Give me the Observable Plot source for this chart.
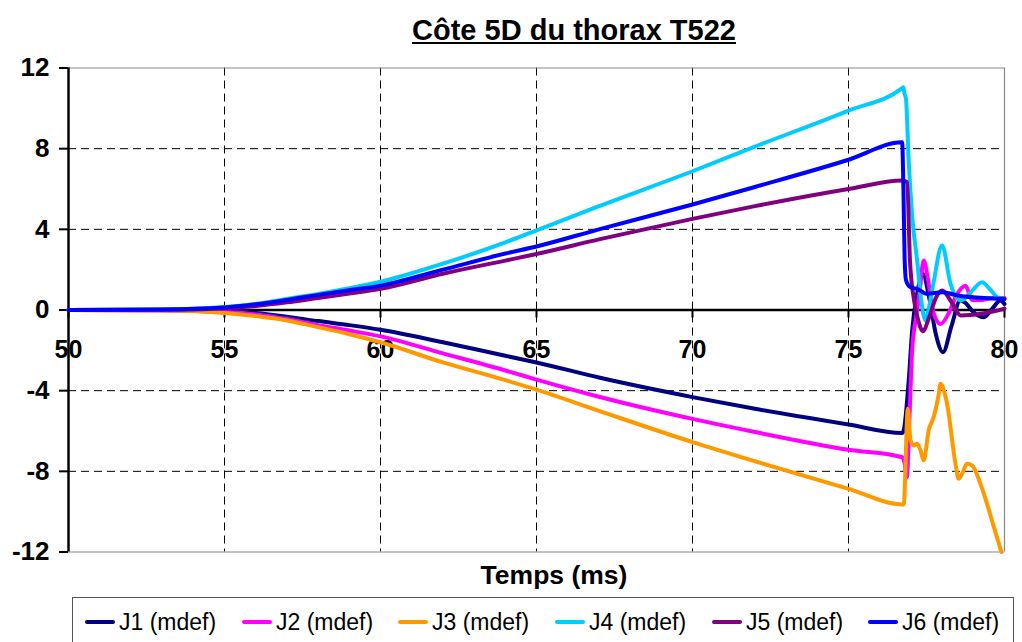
<!DOCTYPE html>
<html>
<head>
<meta charset="utf-8">
<script src="https://cdn.jsdelivr.net/npm/d3@7"></script>
<script src="https://cdn.jsdelivr.net/npm/@observablehq/plot@0.6"></script>
<style>
  html, body { margin: 0; padding: 0; background: #fff; }
  #wrap { position: relative; width: 1022px; height: 642px; overflow: hidden; font-family: "Liberation Sans", Arial, sans-serif; }
  #title { position: absolute; top: 13px; left: 574px; transform: translateX(-50%); font-size: 29px; font-weight: bold; text-decoration: underline; white-space: nowrap; line-height: 34px; }
  #xlabel { position: absolute; top: 559px; left: 554px; transform: translateX(-50%); font-size: 26.5px; font-weight: bold; white-space: nowrap; line-height: 32px; }
  #legend { position: absolute; left: 72px; top: 597px; width: 942px; height: 60px; border: 1px solid #555; box-sizing: border-box; }
  .item { position: absolute; top: 9px; font-size: 23px; line-height: 30px; white-space: nowrap; display: flex; align-items: center; }
  .sw { display: inline-block; width: 30px; height: 4px; margin-right: 4px; border-radius: 2px; }
</style>
</head>
<body>
<div id="wrap">
  <div id="chart"></div>
  <div id="title">Côte 5D du thorax T522</div>
  <div id="xlabel">Temps (ms)</div>
  <div id="legend"></div>
</div>
<script>
// ---- data ----
const seriesNames = ["J1 (mdef)", "J2 (mdef)", "J3 (mdef)", "J4 (mdef)", "J5 (mdef)", "J6 (mdef)"];
const seriesColors = ["#000080", "#FF00FF", "#FF9900", "#00CCFF", "#800080", "#0000FF"];
const xTicks = [50, 55, 60, 65, 70, 75, 80];
const yTicks = [-12, -8, -4, 0, 4, 8, 12];

const baseTime = [50, 53, 55, 56, 57, 58, 59, 60, 62, 64, 65, 67, 70, 72, 75, 76.72];

const j1Base = [0, 0, -0.05, -0.15, -0.33, -0.55, -0.75, -0.98, -1.6, -2.27, -2.6, -3.35, -4.32, -4.9, -5.68, -6.1];
const j1TailTime = [76.77, 76.93, 77.04, 77.2, 77.38, 77.6, 77.8, 78.03, 78.3, 78.58, 78.75, 79.0, 79.34, 79.6, 79.87, 80];
const j1TailVal = [-5.97, -3.5, -1.02, 0.8, 1.8, 0.5, -1.2, -2.09, -0.8, 0.47, 0.35, -0.1, -0.36, 0.05, 0.47, 0.3];

const j2Base = [0, -0.02, -0.1, -0.22, -0.45, -0.75, -1.02, -1.31, -2.15, -3.0, -3.45, -4.3, -5.4, -6.05, -6.93, -7.3];
const j2TailTime = [76.8, 76.87, 76.95, 77.04, 77.15, 77.26, 77.41, 77.55, 77.7, 77.95, 78.2, 78.45, 78.75, 78.96, 79.3, 79.6, 80];
const j2TailVal = [-7.6, -8.29, -5.5, -2.0, -0.52, 0.63, 2.45, 1.5, 0.0, -0.69, -0.2, 0.7, 1.2, 0.5, 0.5, 0.6, 0.6];

const j3Base = [0, -0.03, -0.15, -0.3, -0.52, -0.85, -1.2, -1.6, -2.6, -3.48, -3.95, -5.0, -6.55, -7.5, -8.87, -9.64];
const j3TailTime = [76.77, 76.9, 76.99, 77.09, 77.2, 77.31, 77.41, 77.57, 77.73, 77.89, 77.95, 78.0, 78.16, 78.43, 78.53, 78.64, 78.8, 78.96, 79.23, 79.44, 79.66, 79.9];
const j3TailVal = [-9.64, -4.9, -6.47, -6.72, -6.63, -6.97, -7.46, -5.97, -5.31, -4.2, -3.66, -3.74, -4.65, -7.63, -8.37, -8.12, -7.63, -7.71, -8.62, -9.61, -10.77, -12.0];

const j4Base = [0, 0.02, 0.15, 0.3, 0.55, 0.8, 1.08, 1.4, 2.3, 3.35, 3.95, 5.15, 6.88, 8.1, 9.89, 11.0];
const j4TailTime = [76.76, 76.8, 76.84, 76.93, 77.05, 77.2, 77.32, 77.47, 77.6, 77.72, 78.0, 78.27, 78.59, 78.9, 79.28, 79.55, 79.77, 80];
const j4TailVal = [11.05, 10.7, 10.5, 7.4, 4.5, 2.45, 0.6, -0.52, 0.3, 1.3, 3.2, 1.3, 0.47, 0.85, 1.38, 1.0, 0.63, 0.55];

const j5Base = [0, 0.01, 0.08, 0.2, 0.38, 0.6, 0.82, 1.05, 1.8, 2.45, 2.78, 3.5, 4.52, 5.15, 6.0, 6.42];
const j5TailTime = [76.88, 76.97, 77.1, 77.25, 77.38, 77.6, 77.8, 78.0, 78.3, 78.6, 78.9, 79.3, 79.7, 80];
const j5TailVal = [6.34, 2.45, 0.5, -0.6, -1.05, -0.3, 0.6, 0.97, 0.4, -0.27, -0.25, -0.17, -0.05, 0.07];

const j6Base = [0, 0.02, 0.12, 0.28, 0.5, 0.75, 0.98, 1.21, 2.0, 2.8, 3.15, 4.0, 5.23, 6.1, 7.45, 8.32];
const j6TailTime = [76.76, 76.8, 76.84, 76.93, 77.05, 77.2, 77.5, 78.0, 78.5, 79.0, 79.5, 80];
const j6TailVal = [6.0, 2.5, 1.5, 1.2, 1.1, 1.05, 0.8, 0.88, 0.72, 0.63, 0.58, 0.55];

// ---- build ----
function rows(base, tt, tv) {
  const r = baseTime.map((t, i) => ({t, v: base[i]}));
  tt.forEach((t, i) => r.push({t, v: tv[i]}));
  return r;
}
const allSeries = [
  rows(j1Base, j1TailTime, j1TailVal),
  rows(j2Base, j2TailTime, j2TailVal),
  rows(j3Base, j3TailTime, j3TailVal),
  rows(j4Base, j4TailTime, j4TailVal),
  rows(j5Base, j5TailTime, j5TailVal),
  rows(j6Base, j6TailTime, j6TailVal)
];

const gridX = xTicks.filter(d => d > 50 && d < 80);
const gridY = yTicks.filter(d => d !== 0 && Math.abs(d) !== 12);

const chart = Plot.plot({
  width: 1022,
  height: 595,
  marginLeft: 68,
  marginRight: 18,
  marginTop: 67.5,
  marginBottom: 43.5,
  x: {domain: [50, 80], axis: null},
  y: {domain: [-12, 12], axis: null},
  style: {fontFamily: "'Liberation Sans', Arial, sans-serif", background: "transparent", color: "#000"},
  marks: [
    Plot.ruleX(gridX, {stroke: "#000", strokeWidth: 1, strokeDasharray: "8,5"}),
    Plot.ruleY(gridY, {stroke: "#000", strokeWidth: 1, strokeDasharray: "8,5"}),
    Plot.ruleY([12, -12], {stroke: "#888", strokeWidth: 1.2}),
    Plot.ruleX([80], {stroke: "#888", strokeWidth: 1.2}),
    Plot.axisY({ticks: yTicks, tickSize: 9, tickPadding: 10, fontSize: 26, fontWeight: "bold", strokeWidth: 2, label: null, tickFormat: d => String(d)}),
    Plot.ruleX([50], {stroke: "#000", strokeWidth: 2.5}),
    Plot.ruleY([0], {stroke: "#000", strokeWidth: 2.5}),
    Plot.ruleX(xTicks, {x: d => d, y1: 0, y2: -0.4, stroke: "#000", strokeWidth: 2}),
    Plot.text(xTicks, {x: d => d, y: 0, dy: 40, text: d => String(d), fontSize: 25, fontWeight: "bold", fill: "#000"}),
    ...allSeries.map((data, i) => Plot.line(data, {x: "t", y: "v", stroke: seriesColors[i], strokeWidth: 4, curve: "monotone-x"}))
  ]
});
document.getElementById("chart").appendChild(chart);

const legend = document.getElementById("legend");
const legendLeft = [12, 169, 325, 482, 639, 795];
seriesNames.forEach((name, i) => {
  const it = document.createElement("div");
  it.className = "item";
  it.style.left = legendLeft[i] + "px";
  it.innerHTML = `<span class="sw" style="background:${seriesColors[i]}"></span><span>${name}</span>`;
  legend.appendChild(it);
});
</script>
</body>
</html>
